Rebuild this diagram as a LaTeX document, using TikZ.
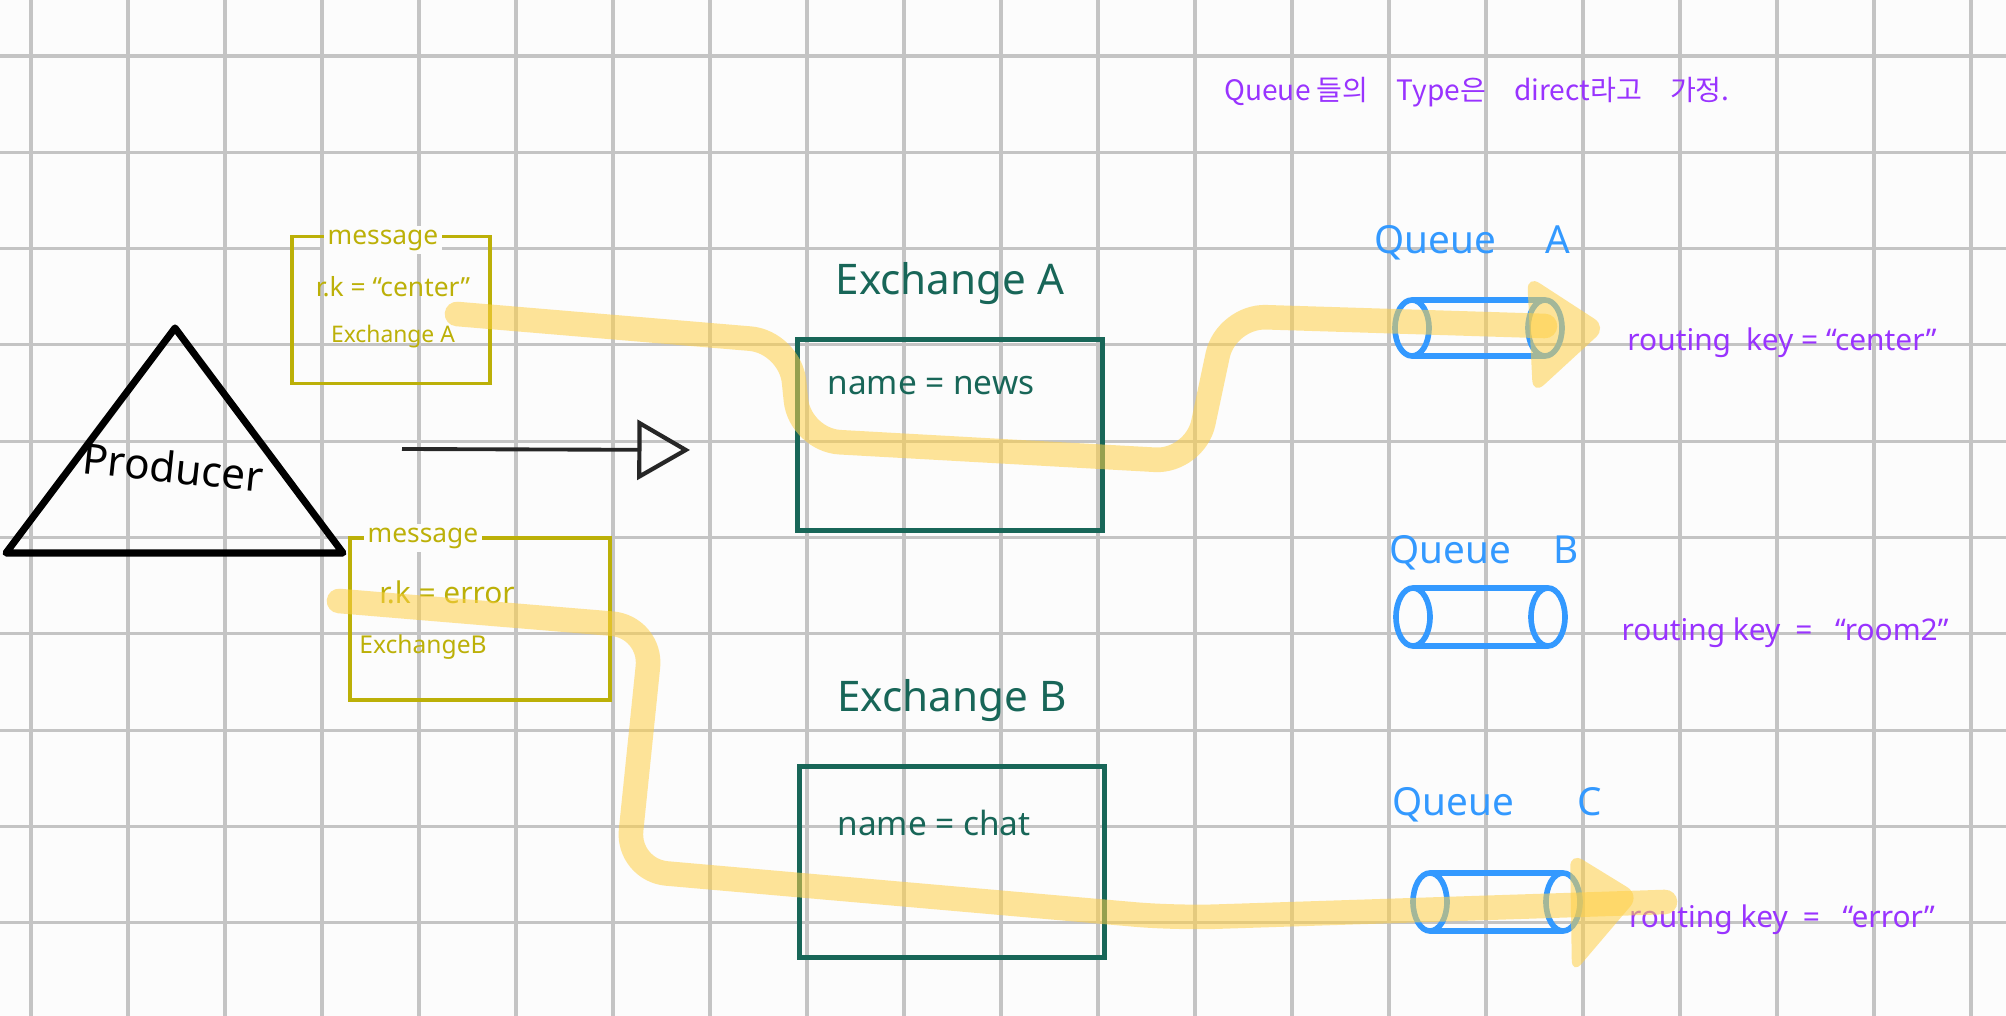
\documentclass[tikz,border=0pt]{standalone}
\usepackage{fontspec}
\setmainfont{Noto Sans}
\newfontfamily\krfont{Noto Sans CJK KR}
\usetikzlibrary{arrows.meta,positioning}

\definecolor{paper}{RGB}{252,252,252}
\definecolor{gridgray}{RGB}{196,196,196}
\definecolor{msgolive}{RGB}{188,176,8}
\definecolor{exteal}{RGB}{24,102,88}
\definecolor{qblue}{RGB}{51,153,255}
\definecolor{keypurple}{RGB}{153,51,255}
\definecolor{marker}{RGB}{255,208,70}

\begin{document}
\begin{tikzpicture}[
  x=0.1mm, y=-0.1mm,
  gridline/.style={draw=gridgray, line width=0.9pt},
  msgbox/.style={draw=msgolive, line width=1.1pt, inner sep=0pt},
  msgtext/.style={text=msgolive, inner sep=1pt, font=\fontsize{7.5}{9}\selectfont},
  exbox/.style={draw=exteal, line width=1.5pt, minimum width=30.5mm, minimum height=19.1mm, inner sep=0pt},
  extitle/.style={text=exteal, font=\fontsize{12}{14}\selectfont},
  exname/.style={text=exteal, anchor=west, font=\fontsize{9.5}{11}\selectfont},
  queue/.style={draw=qblue, line width=1.6pt},
  qlabel/.style={text=qblue, font=\fontsize{11}{13}\selectfont},
  keylabel/.style={text=keypurple, font=\fontsize{8.5}{10}\selectfont},
  hl/.style={draw=marker, draw opacity=0.55, line width=7pt, line cap=round, line join=round, rounded corners=4mm},
  hlhead/.style={fill=marker, fill opacity=0.55, rounded corners=1.5mm},
  sendarrow/.style={-{Triangle[open, length=15pt, width=17pt, line width=1.2pt]}, line width=1.1pt, draw=black!85}
]
  % paper and grid
  \fill[paper] (0,0) rectangle (2006,1016);
  \useasboundingbox (0,0) rectangle (2006,1016);
  \foreach \i in {0,...,20}
    \draw[gridline] ({31+97*\i},0) -- ({31+97*\i},1016);
  \foreach \j in {0,...,9}
    \draw[gridline] (0,{56+96.3*\j}) -- (2006,{56+96.3*\j});

  % note
  \node[text=keypurple, font=\krfont\fontsize{8}{10}\selectfont] (note) at (1477,92)
    {Queue 들의\quad Type은\quad direct라고\quad 가정.};

  % producer
  \coordinate (ptop) at (175,328);
  \coordinate (pleft) at (6,553);
  \coordinate (pright) at (343,553);
  \draw[line width=2pt, line join=round] (ptop) -- (pleft) -- (pright) -- cycle;
  \node[rotate=-6, font=\fontsize{12}{14}\selectfont] (prod) at (173,467) {Producer};

  \coordinate (sendfrom) at (402,449);
  \coordinate (sendto) at (690,450);
  \draw[sendarrow] (sendfrom) -- (sendto);

  % messages
  \node[msgbox, minimum width=19.8mm, minimum height=14.7mm] (msga) at (391,310) {};
  \node[msgtext, fill=paper] (msgatitle) at (383,240) {message};
  \node[msgtext] (msgakey) at (393,287) {r.k = “center”};
  \node[msgtext, font=\fontsize{6.5}{8}\selectfont] (msgaex) at (393,337) {Exchange A};

  \node[msgbox, minimum width=26mm, minimum height=16.2mm] (msgb) at (480,619) {};
  \node[msgtext, fill=paper] (msgbtitle) at (423,538) {message};
  \node[msgtext, font=\fontsize{8.5}{10}\selectfont] (msgbkey) at (447,592) {r.k = error};
  \node[msgtext, font=\fontsize{7}{8}\selectfont] (msgbex) at (423,647) {ExchangeB};

  % exchanges
  \node[exbox] (exa) at (950,435) {};
  \node[extitle, above=2mm of exa] (exatitle) {Exchange A};
  \node[exname] (exaname) at (815,386) {name = news};

  \node[exbox] (exb) at (952,862) {};
  \node[extitle, above=3mm of exb] (exbtitle) {Exchange B};
  \node[exname] (exbname) at (825,823) {name = chat};

  % queues
  \coordinate (qa) at (1412,328);
  \draw[queue] (qa) ellipse [x radius=17, y radius=28]
    ++(133,0) ellipse [x radius=17, y radius=28];
  \draw[queue] (1412,300) -- (1545,300) (1412,356) -- (1545,356);
  \node[qlabel] (qalabel) at (1472,243) {Queue\hspace{14pt}A};
  \node[keylabel] (qakey) at (1782,343) {routing\enspace key = “center”};

  \coordinate (qb) at (1413,617);
  \draw[queue] (qb) ellipse [x radius=17, y radius=29]
    ++(135,0) ellipse [x radius=17, y radius=29];
  \draw[queue] (1413,588) -- (1548,588) (1413,646) -- (1548,646);
  \node[qlabel] (qblabel) at (1484,553) {Queue\hspace{12pt}B};
  \node[keylabel] (qbkey) at (1785,633) {routing key\enspace = \enspace“room2”};

  \coordinate (qc) at (1430,902);
  \draw[queue] (qc) ellipse [x radius=17, y radius=29]
    ++(133,0) ellipse [x radius=17, y radius=29];
  \draw[queue] (1430,873) -- (1563,873) (1430,931) -- (1563,931);
  \node[qlabel] (qclabel) at (1497,805) {Queue\hspace{18pt}C};
  \node[keylabel] (qckey) at (1782,920) {routing key\enspace = \enspace“error”};

  % marker strokes
  \coordinate (hlastart) at (457,314);
  \coordinate (hlaend) at (1545,326);
  \draw[hl] (hlastart) -- (790,342) -- (800,440) -- (1195,462)
    -- (1226,316) -- (hlaend);
  \fill[hlhead] (1527,275) -- (1607,327) -- (1533,395) -- cycle;

  \coordinate (hlbstart) at (339,601);
  \coordinate (hlbend) at (1665,902);
  \draw[hl] (hlbstart) -- (652,627) -- (627,870) -- (1175,918) -- (hlbend);
  \fill[hlhead] (1570,852) -- (1640,895) -- (1572,975) -- cycle;
\end{tikzpicture}
\end{document}
